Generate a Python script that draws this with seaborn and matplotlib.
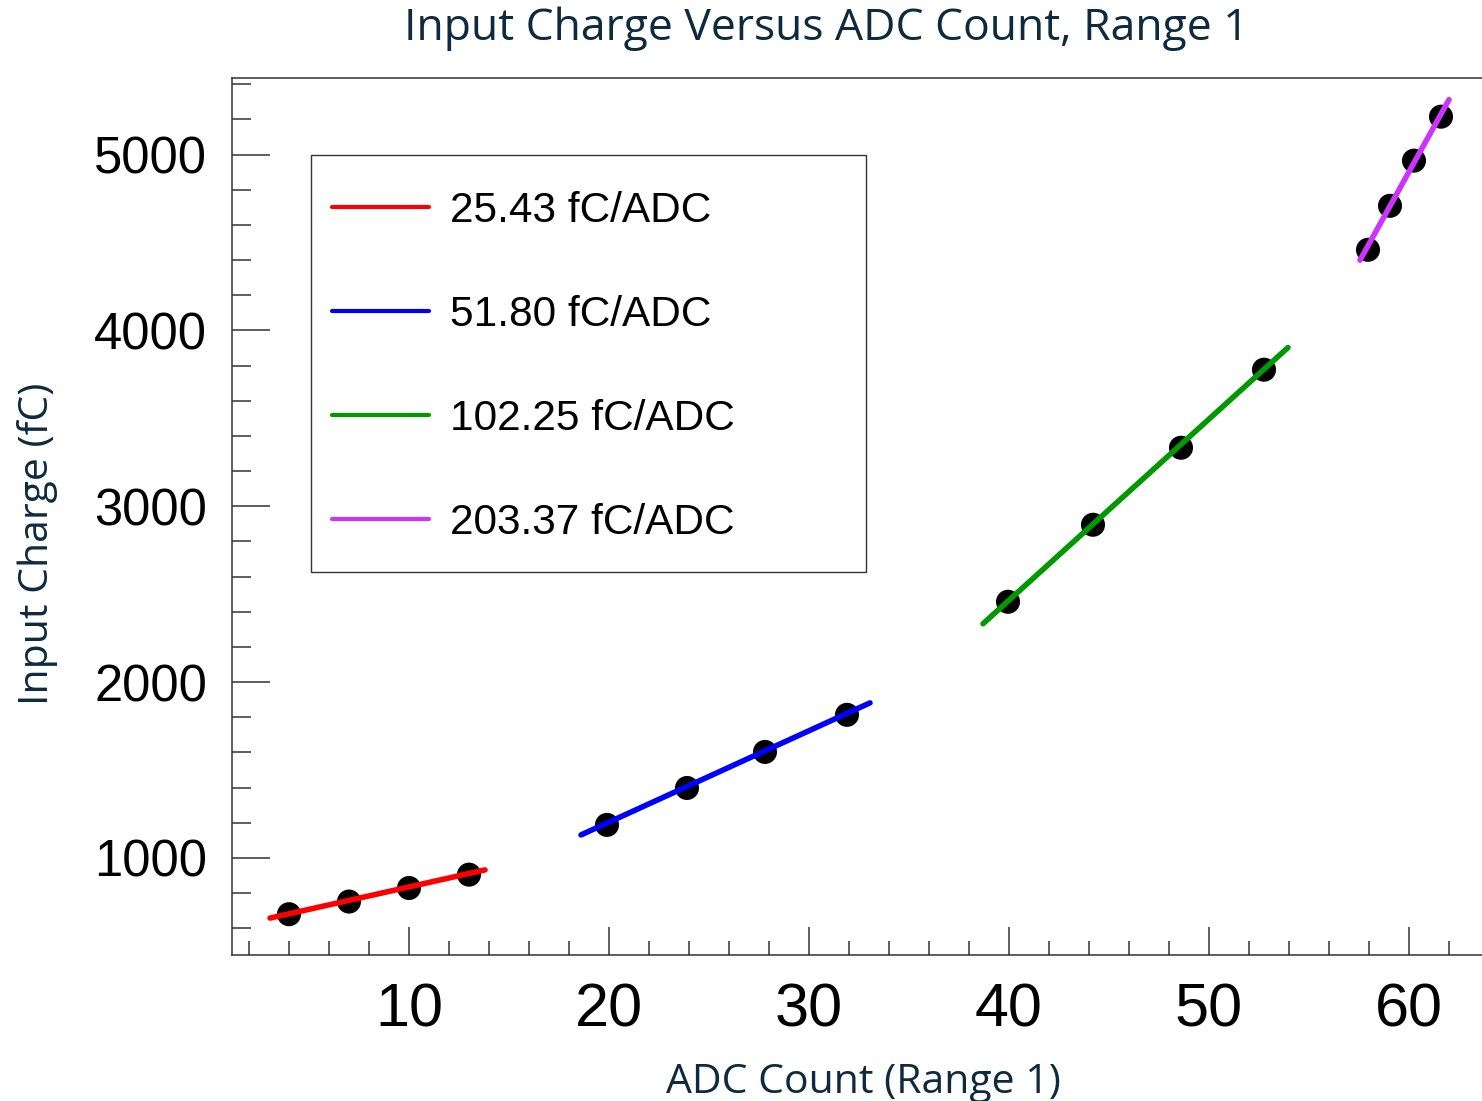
import numpy as np
import pandas as pd
import matplotlib
matplotlib.use("Agg")
import matplotlib.pyplot as plt
from matplotlib.patches import Rectangle
import seaborn as sns

# ---- data ----
red_x = [4.0, 7.0, 10.0, 13.0]
red_y = [680, 752, 829, 905]
blue_x = [19.9, 23.9, 27.8, 31.9]
blue_y = [1188, 1398, 1603, 1814]
green_x = [39.95, 44.2, 48.6, 52.75]
green_y = [2457, 2895, 3333, 3777]
purple_x = [57.95, 59.05, 60.25, 61.6]
purple_y = [4459, 4709, 4966, 5216]

fit_labels = ["25.43 fC/ADC", "51.80 fC/ADC", "102.25 fC/ADC", "203.37 fC/ADC"]
fit_x0 = [3.05, 18.6, 38.7, 57.55]
fit_x1 = [13.8, 33.05, 53.95, 62.0]
fit_y0 = [658, 1131, 2332, 4400]
fit_y1 = [932, 1882, 3903, 5313]
fit_colors = ["#ff0000", "#0000ff", "#009900", "#cc33ff"]

x_ticks = [10, 20, 30, 40, 50, 60]
y_ticks = [1000, 2000, 3000, 4000, 5000]

# ---- build tables ----
pts = pd.DataFrame({
    "x": red_x + blue_x + green_x + purple_x,
    "y": red_y + blue_y + green_y + purple_y,
})
lines = pd.DataFrame({
    "x": [v for pair in zip(fit_x0, fit_x1) for v in pair],
    "y": [v for pair in zip(fit_y0, fit_y1) for v in pair],
    "fit": [lab for lab in fit_labels for _ in range(2)],
})

sns.set_theme(style="white")
plt.rcParams["font.family"] = ["Liberation Sans", "DejaVu Sans"]

W, H = 1482, 1101
fig = plt.figure(figsize=(W / 100, H / 100), dpi=100)
AX_L, AX_R, AX_T, AX_B = 232, 1482, 78, 955
ax = fig.add_axes([AX_L / W, 1 - AX_B / H, (AX_R - AX_L) / W, (AX_B - AX_T) / H])

def axfx(px):
    return (px - AX_L) / (AX_R - AX_L)

def axfy(py):
    return (AX_B - py) / (AX_B - AX_T)

sns.scatterplot(data=pts, x="x", y="y", ax=ax, color="black", s=300,
                edgecolor="none", zorder=2, legend=False)
sns.lineplot(data=lines, x="x", y="y", hue="fit", hue_order=fit_labels,
             palette=fit_colors, ax=ax, linewidth=4, zorder=3,
             estimator=None, sort=False)

ax.set_xlim(1.15, 63.65)
ax.set_ylim(448, 5436)
ax.set_xticks(x_ticks)
ax.set_yticks(y_ticks)
ax.set_xticks(np.arange(2, 64, 2), minor=True)
ax.set_yticks(np.arange(600, 5500, 200), minor=True)

ax.tick_params(axis="both", which="both", direction="in", color="#333333",
               width=1.1, labelcolor="black")
ax.tick_params(axis="x", which="both", bottom=True, top=False, labelsize=44)
ax.tick_params(axis="y", which="both", left=True, right=False, labelsize=36.5)
ax.tick_params(axis="x", which="major", length=20, pad=20)
ax.tick_params(axis="x", which="minor", length=10)
ax.tick_params(axis="y", which="major", length=27, pad=18)
ax.tick_params(axis="y", which="minor", length=13.5)

for side in ["left", "bottom", "top"]:
    ax.spines[side].set_visible(True)
    ax.spines[side].set_color("#333333")
    ax.spines[side].set_linewidth(1.1)
ax.spines["right"].set_visible(False)

label_font = dict(family=["Open Sans", "DejaVu Sans"], color="#0d2a3f", fontsize=29.5)
ax.set_xlabel("ADC Count (Range 1)", **label_font)
ax.set_ylabel("Input Charge (fC)", **label_font)
ax.xaxis.set_label_coords(axfx(863), axfy(1083))
ax.xaxis.label.set_va("center")
ax.yaxis.set_label_coords(axfx(38), axfy(544))
ax.yaxis.label.set_va("center")

fig.text(826 / W, 1 - 29 / H, "Input Charge Versus ADC Count, Range 1",
         ha="center", va="center", family=["Open Sans", "DejaVu Sans"],
         color="#0d2a3f", fontsize=32)

# legend frame
ax.add_patch(Rectangle((axfx(311), axfy(572)), axfx(866) - axfx(311),
                       axfy(155) - axfy(572), transform=ax.transAxes,
                       facecolor="white", edgecolor="#333333", linewidth=1.0,
                       zorder=4))

handles, labels = ax.get_legend_handles_labels()
for h in handles:
    h.set_linewidth(3)
leg = ax.legend(handles, labels, loc="upper left",
                bbox_to_anchor=(axfx(311), axfy(170), axfx(866) - axfx(311), 0.0),
                mode="expand", fontsize=30.5, handlelength=2.28, handletextpad=0.5,
                borderpad=0.5, labelspacing=1.51, frameon=False,
                borderaxespad=0, labelcolor="black")
leg.set_zorder(5)

fig.savefig("out.png", dpi=100, facecolor="white")
